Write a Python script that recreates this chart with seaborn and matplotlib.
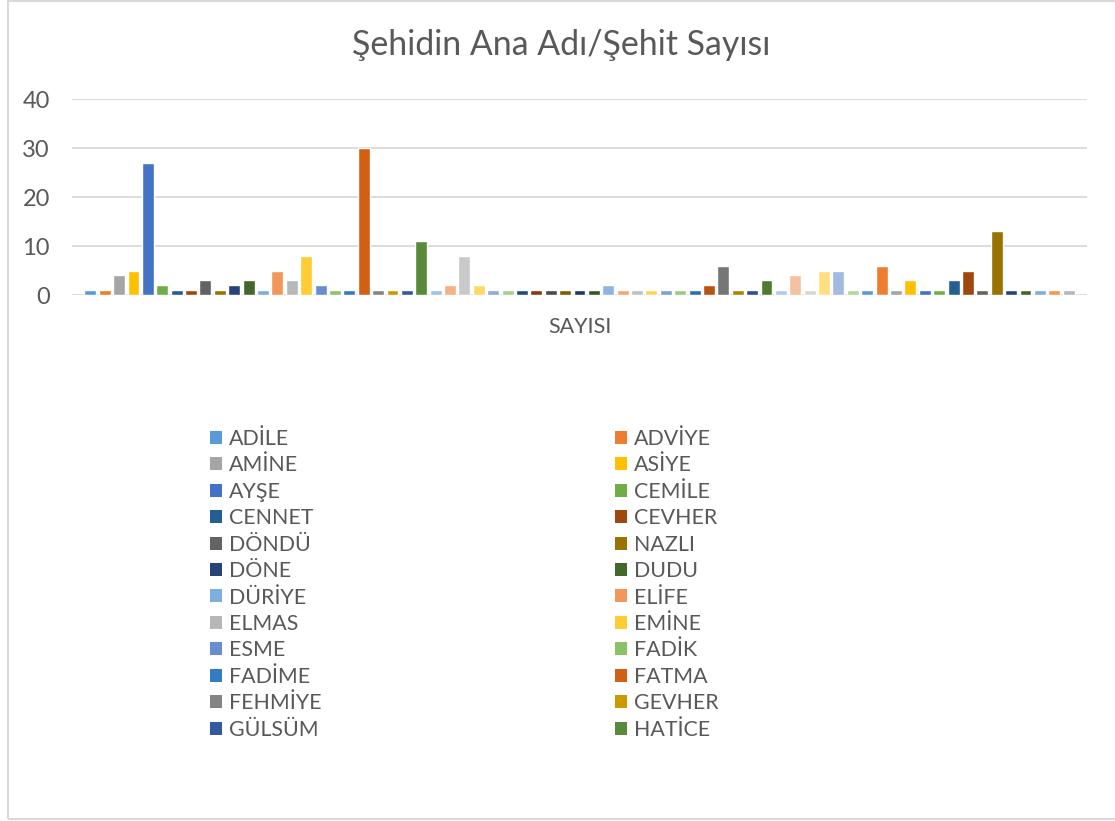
import matplotlib
matplotlib.use("Agg")
import matplotlib.pyplot as plt
import seaborn as sns
import pandas as pd
from matplotlib.patches import Patch, Rectangle

# names shown in the legend (the source legend is cut after 24 entries)
isimler_gorunen = ["ADİLE", "ADVİYE", "AMİNE", "ASİYE", "AYŞE", "CEMİLE",
                   "CENNET", "CEVHER", "DÖNDÜ", "NAZLI", "DÖNE", "DUDU",
                   "DÜRİYE", "ELİFE", "ELMAS", "EMİNE", "ESME", "FADİK",
                   "FADİME", "FATMA", "FEHMİYE", "GEVHER", "GÜLSÜM", "HATİCE"]
# the other 45 series have no visible name in the source
isimler_gizli = [f"İSİM {i}" for i in range(25, 70)]
isimler = isimler_gorunen + isimler_gizli

sayilar = [1, 1, 4, 5, 27, 2, 1, 1, 3, 1, 2, 3, 1, 5, 3, 8, 2, 1, 1, 30, 1, 1, 1, 11,
           1, 2, 8, 2, 1, 1, 1, 1, 1, 1, 1, 1, 2, 1, 1, 1, 1, 1,
           1, 2, 6, 1, 1, 3, 1, 4, 1, 5, 5, 1,
           1, 6, 1, 3, 1, 1, 3, 5, 1, 13, 1, 1, 1, 1, 1]

# Excel office palette, 54 variants, then it starts over
excel_renkler = ["#5B9BD5", "#ED7D31", "#A5A5A5", "#FFC000", "#4472C4", "#70AD47",
                 "#255E91", "#9E480E", "#636363", "#997300", "#264478", "#43682B",
                 "#7CAFDD", "#F1975A", "#B7B7B7", "#FFCD33", "#698ED0", "#8CC168",
                 "#327DC2", "#D26012", "#848484", "#CC9A00", "#335AA1", "#5A8A39",
                 "#9DC3E6", "#F4B183", "#C9C9C9", "#FFD966", "#8FAADC", "#A9D18E",
                 "#1F4E79", "#843C0C", "#4B4B4B", "#7F6000", "#203864", "#385723",
                 "#8EB4E3", "#F3A675", "#C0C0C0", "#FFD54F", "#7F9ED6", "#9CCB80",
                 "#2A6EB0", "#B85410", "#767676", "#AD8600", "#2F528F", "#4F7B30",
                 "#ADCBEB", "#F6C1A0", "#D6D6D6", "#FFE080", "#A2B9E2", "#B5D6A2"]
renkler = (excel_renkler * 2)[:len(isimler)]

df = pd.DataFrame({"kategori": "SAYISI", "isim": isimler, "sayi": sayilar})

sns.set_style("white")
plt.rcParams['font.family'] = ['Lato', 'DejaVu Sans']
yazi_renk = "#595959"
cizgi_renk = "#D9D9D9"

W, H = 1115, 821
fig = plt.figure(figsize=(W / 100, H / 100), dpi=100)
ax = fig.add_axes([72 / W, (H - 295) / H, (1087 - 72) / W, (295 - 99) / H])

sns.barplot(data=df, x="kategori", y="sayi", hue="isim", hue_order=isimler,
            palette=renkler, saturation=1, width=0.978, gap=0.17, dodge=True,
            errorbar=None, legend=False, ax=ax)

ax.set_xlim(-0.5, 0.5)
ax.set_ylim(0, 40)
ax.set_yticks([0, 10, 20, 30, 40])
ax.set_xlabel("")
ax.set_ylabel("")
ax.set_axisbelow(True)
ax.yaxis.grid(True, color=cizgi_renk, linewidth=1.3)
for s in ax.spines.values():
    s.set_visible(False)
ax.tick_params(axis="y", length=0, pad=16, labelsize=17, labelcolor=yazi_renk)
ax.tick_params(axis="x", length=0, pad=16, labelsize=15.5, labelcolor=yazi_renk)

fig.text(561 / W, 1 - 45 / H, "Şehidin Ana Adı/Şehit Sayısı", ha="center", va="center",
         fontsize=24.4, color=yazi_renk)

# legend: Excel fills it row by row, so split into two columns
tutamaklar = [Patch(facecolor=c, edgecolor="none") for c in renkler[:24]]
for kol, x0 in [(0, 210), (1, 615)]:
    h = tutamaklar[kol::2]
    l = isimler_gorunen[kol::2]
    leg = fig.legend(h, l, loc="upper left", bbox_to_anchor=(x0 / W, 1 - 429 / H),
                     frameon=False, borderpad=0, borderaxespad=0, fontsize=15.4,
                     handlelength=0.56, handleheight=0.56, handletextpad=0.33,
                     labelspacing=0.3, labelcolor=yazi_renk)

# chart area border
fig.patches.append(Rectangle((8 / W, 2 / H), (W + 20) / W, (H - 3) / H,
                             transform=fig.transFigure, facecolor="none",
                             edgecolor=cizgi_renk, linewidth=1.5))

fig.savefig("out.png", dpi=100)
